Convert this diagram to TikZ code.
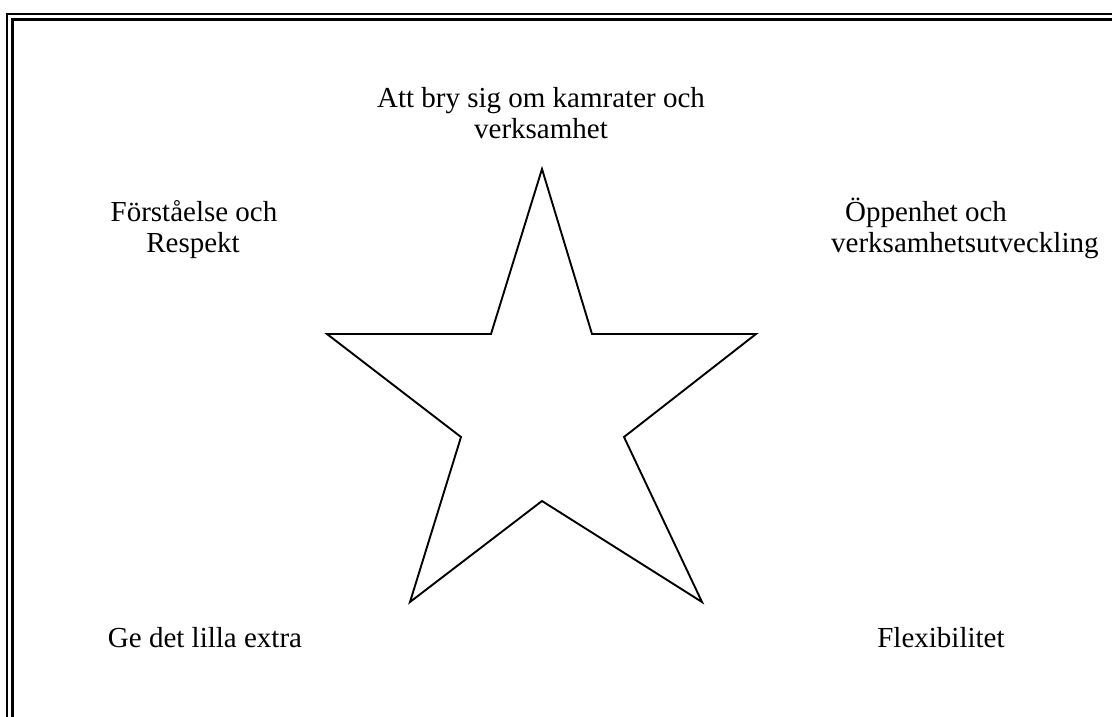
\documentclass[tikz,border=0pt]{standalone}
\usepackage{fontspec}
\setmainfont{Liberation Serif}
\begin{document}
\begin{tikzpicture}[x=1pt,y=-1pt,
  lbl/.style={font=\fontsize{29}{31}\selectfont, inner sep=0pt, anchor=base},
  lblleft/.style={font=\fontsize{29}{31}\selectfont, inner sep=0pt, anchor=base west}]
\useasboundingbox (0,0) rectangle (1112,716);
\fill[white] (0,0) rectangle (1112,716);
\clip (0,0) rectangle (1112,716);
% double frame (continues past right and bottom edges)
\draw[line width=2pt] (7,730) -- (7,14) -- (1130,14);
\draw[line width=3pt] (12.5,730) -- (12.5,19.5) -- (1130,19.5);
% star
\draw[line width=1.9pt, line join=miter]
  (542,169) -- (592,334) -- (756,334) -- (624,437) -- (702,602)
  -- (542,501) -- (410,602) -- (461,437) -- (327,334) -- (491,334) -- cycle;
% labels
\node[lbl] (t1) at (541,107) {Att bry sig om kamrater och};
\node[lbl] (t2) at (541,138) {verksamhet};
\node[lbl] (l1) at (194,221) {Förståelse och};
\node[lbl] (l2) at (193,252) {Respekt};
\node[lbl] (r1) at (926,221) {Öppenhet och};
\node[lblleft] (r2) at (831,252) {verksamhetsutveckling};
\node[lbl] (bl) at (205,647) {Ge det lilla extra};
\node[lbl] (br) at (941,647) {Flexibilitet};
\end{tikzpicture}
\end{document}
